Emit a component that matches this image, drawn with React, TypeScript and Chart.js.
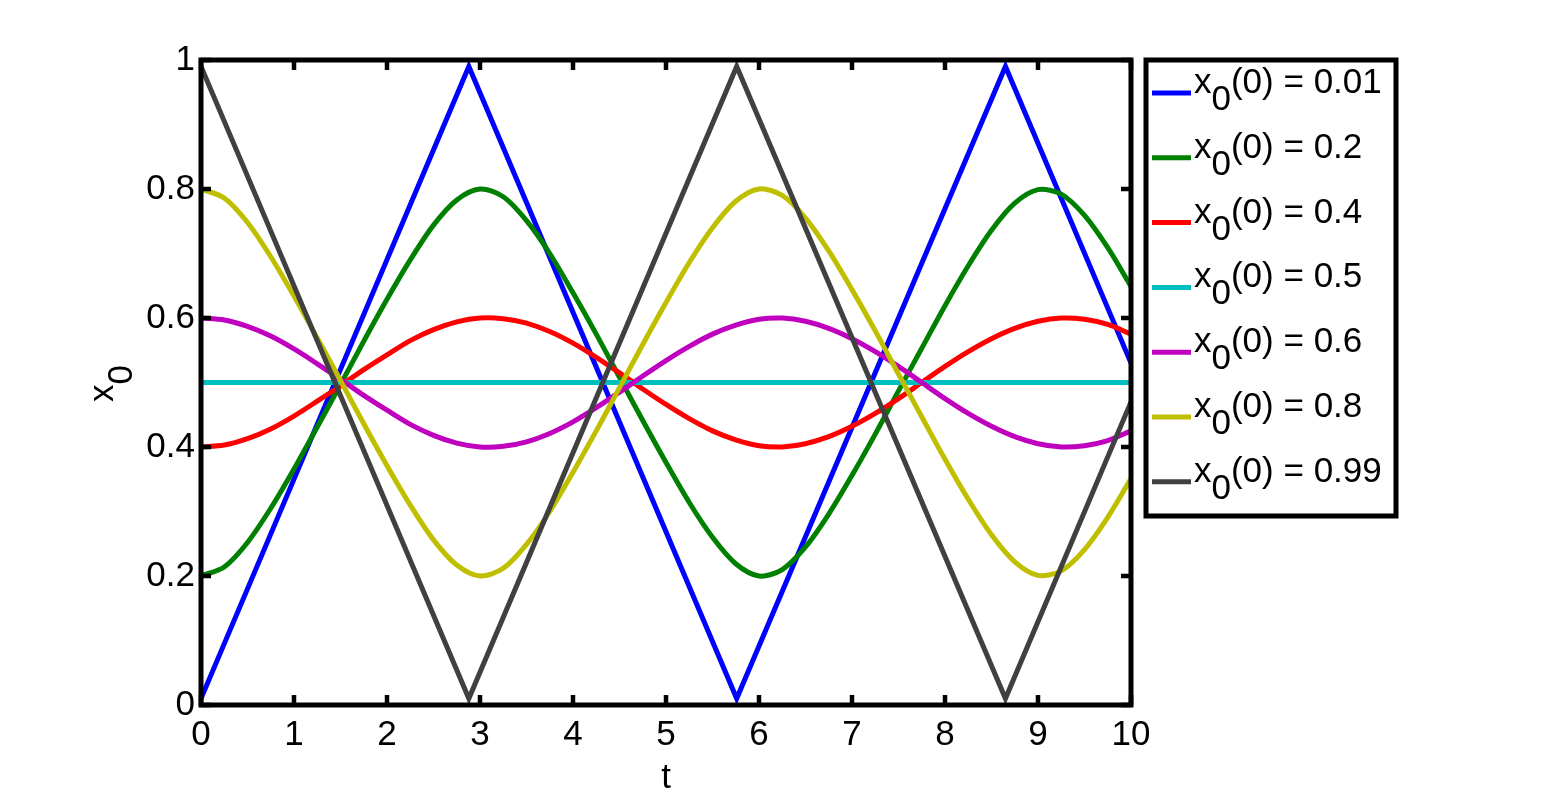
import React, { useEffect, useRef } from "react";
import { Chart, registerables } from "chart.js";

Chart.register(...registerables);

// ---------- data ----------
const tGrid = [
  0, 0.25, 0.5, 0.75, 1, 1.25, 1.5, 1.75, 2, 2.25, 2.5, 2.75, 3, 3.25, 3.5, 3.75, 4, 4.25, 4.5, 4.75,
  5, 5.25, 5.5, 5.75, 6, 6.25, 6.5, 6.75, 7, 7.25, 7.5, 7.75, 8, 8.25, 8.5, 8.75, 9, 9.25, 9.5, 9.75, 10,
];

const tCorners = [0, 2.88, 5.76, 8.65, 10];
const blueValues = [0.01, 0.99, 0.01, 0.99, 0.53];
const grayValues = [0.99, 0.01, 0.99, 0.01, 0.47];

const greenValues = [
  0.2, 0.214, 0.252, 0.305, 0.366, 0.431, 0.497, 0.564, 0.629, 0.69, 0.744, 0.783, 0.8, 0.788, 0.751,
  0.7, 0.639, 0.575, 0.508, 0.441, 0.376, 0.314, 0.26, 0.219, 0.2, 0.21, 0.245, 0.296, 0.356, 0.42,
  0.487, 0.553, 0.619, 0.681, 0.736, 0.778, 0.799, 0.792, 0.759, 0.709, 0.649,
];

const redValues = [
  0.4, 0.403, 0.413, 0.428, 0.448, 0.471, 0.495, 0.52, 0.543, 0.565, 0.582, 0.594, 0.6, 0.599, 0.592,
  0.579, 0.561, 0.539, 0.515, 0.49, 0.466, 0.444, 0.425, 0.411, 0.402, 0.4, 0.405, 0.416, 0.432, 0.452,
  0.475, 0.5, 0.525, 0.548, 0.568, 0.584, 0.595, 0.6, 0.598, 0.59, 0.575,
];

const tFlat = [0, 10];
const cyanValues = [0.5, 0.5];

const magentaValues = [
  0.6, 0.597, 0.587, 0.572, 0.552, 0.529, 0.505, 0.48, 0.457, 0.435, 0.418, 0.406, 0.4, 0.401, 0.408,
  0.421, 0.439, 0.461, 0.485, 0.51, 0.534, 0.556, 0.575, 0.589, 0.598, 0.6, 0.595, 0.584, 0.568, 0.548,
  0.525, 0.5, 0.475, 0.452, 0.432, 0.416, 0.405, 0.4, 0.402, 0.41, 0.425,
];

const yellowValues = [
  0.8, 0.786, 0.748, 0.695, 0.634, 0.569, 0.503, 0.436, 0.371, 0.31, 0.256, 0.217, 0.2, 0.212, 0.249,
  0.3, 0.361, 0.425, 0.492, 0.559, 0.624, 0.686, 0.74, 0.781, 0.8, 0.79, 0.755, 0.704, 0.644, 0.58,
  0.513, 0.447, 0.381, 0.319, 0.264, 0.222, 0.201, 0.208, 0.241, 0.291, 0.351,
];

const legendValues = ["0.01", "0.2", "0.4", "0.5", "0.6", "0.8", "0.99"];
const seriesColors = ["#0000ff", "#008000", "#ff0000", "#00bfbf", "#bf00bf", "#bfbf00", "#404040"];

const xTickValues = [0, 1, 2, 3, 4, 5, 6, 7, 8, 9, 10];
const yTickValues = [0, 0.2, 0.4, 0.6, 0.8, 1];

const FONT_FAMILY = '"Liberation Sans", Arial, sans-serif';
const FONT_SIZE = 35;

function pts(ts: number[], vs: number[]) {
  return ts.map((t, i) => ({ x: t, y: vs[i] }));
}

export default function App() {
  const ref = useRef<HTMLCanvasElement>(null);

  useEffect(() => {
    const canvas = ref.current;
    if (!canvas) return;

    const seriesData = [
      pts(tCorners, blueValues),
      pts(tGrid, greenValues),
      pts(tGrid, redValues),
      pts(tFlat, cyanValues),
      pts(tGrid, magentaValues),
      pts(tGrid, yellowValues),
      pts(tCorners, grayValues),
    ];
    const smooth = [false, true, true, false, true, true, false];

    const framePlugin = {
      id: "matlabFrame",
      afterDraw(chart: any) {
        const { ctx, chartArea: a, scales } = chart;
        ctx.save();
        ctx.strokeStyle = "#000";
        ctx.fillStyle = "#000";
        ctx.lineCap = "butt";

        // inward tick marks on all four sides
        ctx.lineWidth = 4.5;
        const tl = 10;
        ctx.beginPath();
        xTickValues.forEach((v) => {
          const px = scales.x.getPixelForValue(v);
          ctx.moveTo(px, a.bottom);
          ctx.lineTo(px, a.bottom - tl);
          ctx.moveTo(px, a.top);
          ctx.lineTo(px, a.top + tl);
        });
        yTickValues.forEach((v) => {
          const py = scales.y.getPixelForValue(v);
          ctx.moveTo(a.left, py);
          ctx.lineTo(a.left + tl, py);
          ctx.moveTo(a.right, py);
          ctx.lineTo(a.right - tl, py);
        });
        ctx.stroke();

        // box
        ctx.lineWidth = 5;
        ctx.lineJoin = "miter";
        ctx.strokeRect(a.left, a.top, a.right - a.left, a.bottom - a.top);

        // axis titles
        ctx.font = `${FONT_SIZE}px ${FONT_FAMILY}`;
        ctx.textBaseline = "alphabetic";
        ctx.textAlign = "center";
        ctx.fillText("t", (a.left + a.right) / 2, 788);

        ctx.textAlign = "left";
        ctx.save();
        ctx.translate(113, 402);
        ctx.rotate(-Math.PI / 2);
        ctx.fillText("x", 0, 0);
        const wx = ctx.measureText("x").width;
        ctx.fillText("0", wx, 19);
        ctx.restore();

        // legend box
        const lx = a.right + 15;
        const ly = 60;
        const lw = 250;
        const lh = 456;
        ctx.fillStyle = "#fff";
        ctx.fillRect(lx, ly, lw, lh);
        ctx.lineWidth = 5;
        ctx.strokeRect(lx, ly, lw, lh);

        ctx.font = `${FONT_SIZE}px ${FONT_FAMILY}`;
        ctx.fillStyle = "#000";
        legendValues.forEach((val, i) => {
          const base = 93 + 64.8 * i;
          ctx.strokeStyle = seriesColors[i];
          ctx.lineWidth = 5;
          ctx.beginPath();
          ctx.moveTo(lx + 6, base);
          ctx.lineTo(lx + 45, base);
          ctx.stroke();
          const tx = lx + 48;
          ctx.fillText("x", tx, base);
          const w1 = ctx.measureText("x").width;
          ctx.fillText("0", tx + w1, base + 17);
          const w2 = ctx.measureText("0").width;
          ctx.fillText(`(0) = ${val}`, tx + w1 + w2, base);
        });

        ctx.restore();
      },
    };

    const chart = new Chart(canvas, {
      type: "line",
      data: {
        datasets: seriesData.map((d, i) => ({
          label: `x0(0) = ${legendValues[i]}`,
          data: d,
          borderColor: seriesColors[i],
          backgroundColor: seriesColors[i],
          borderWidth: 5,
          pointRadius: 0,
          fill: false,
          tension: smooth[i] ? 0.3 : 0,
          order: seriesData.length - i,
        })),
      },
      options: {
        responsive: false,
        animation: false,
        devicePixelRatio: 1,
        layout: { padding: { left: 141, right: 412, top: 60, bottom: 35 } },
        plugins: { legend: { display: false }, tooltip: { enabled: false } },
        scales: {
          x: {
            type: "linear",
            min: 0,
            max: 10,
            afterFit: (s: any) => {
              s.height = 60;
            },
            afterBuildTicks: (s: any) => {
              s.ticks = xTickValues.map((v) => ({ value: v }));
            },
            grid: { display: false, drawTicks: false },
            border: { display: false },
            ticks: {
              color: "#000",
              padding: 9,
              maxRotation: 0,
              autoSkip: false,
              font: { family: FONT_FAMILY, size: FONT_SIZE },
              callback: (v: any) => String(v),
            },
          },
          y: {
            type: "linear",
            min: 0,
            max: 1,
            afterFit: (s: any) => {
              s.width = 60;
            },
            afterBuildTicks: (s: any) => {
              s.ticks = yTickValues.map((v) => ({ value: v }));
            },
            grid: { display: false, drawTicks: false },
            border: { display: false },
            ticks: {
              color: "#000",
              padding: 6,
              autoSkip: false,
              font: { family: FONT_FAMILY, size: FONT_SIZE },
              callback: (v: any) => String(Math.round(Number(v) * 10) / 10),
            },
          },
        },
      },
      plugins: [framePlugin],
    });

    return () => chart.destroy();
  }, []);

  return (
    <div style={{ position: "fixed", left: 0, top: 0, width: 1543, height: 800, background: "#fff" }}>
      <canvas ref={ref} width={1543} height={800} style={{ display: "block" }} />
    </div>
  );
}
